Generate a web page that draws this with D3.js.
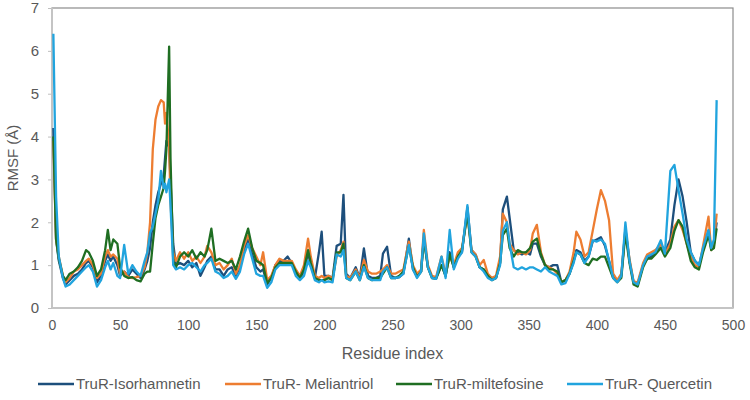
<!DOCTYPE html>
<html>
<head>
<meta charset="utf-8">
<script src="https://cdn.jsdelivr.net/npm/d3@7"></script>
<style>
  body { margin: 0; background: #fff; }
  svg text { font-family: "Liberation Sans", Arial, sans-serif; fill: #595959; }
</style>
</head>
<body>
<div id="chart"></div>
<script>
// residue index sampled along the x axis
var residues = [
  1, 3, 5, 8, 10, 13, 16, 19, 22, 25,
  27, 30, 33, 36, 39, 41, 43, 45, 48, 50,
  53, 56, 59, 62, 65, 68, 70, 72, 74, 76,
  78, 80, 82, 83, 84, 86, 87, 89, 91, 94,
  97, 100, 103, 106, 109, 112, 114, 117, 120, 123,
  126, 129, 132, 135, 138, 141, 144, 147, 150, 153,
  155, 158, 161, 164, 167, 170, 173, 176, 179, 182,
  185, 188, 190, 193, 196, 198, 200, 203, 206, 209,
  212, 214, 216, 219, 223, 226, 229, 232, 235, 238,
  241, 243, 246, 249, 252, 255, 258, 262, 265, 268,
  271, 273, 276, 279, 282, 286, 289, 292, 295, 298,
  301, 305, 308, 311, 314, 317, 320, 323, 326, 329,
  331, 334, 336, 339, 342, 345, 348, 351, 353, 356,
  359, 362, 365, 368, 371, 374, 377, 380, 383, 385,
  388, 391, 394, 397, 400, 403, 406, 409, 412, 415,
  418, 421, 424, 427, 430, 434, 437, 440, 443, 447,
  450, 454, 457, 460, 463, 466, 469, 472, 475, 478,
  482, 484, 486, 488
];

var isorhamnetin = [
  4.2, 1.6, 1.1, 0.7, 0.55, 0.65, 0.75, 0.8, 0.9, 1.05,
  1.1, 0.95, 0.6, 0.75, 1.1, 1.25, 1.1, 1.2, 1.0, 0.75,
  0.85, 0.75, 0.9, 0.8, 0.7, 0.9, 1.1, 1.4, 2.0, 2.4,
  2.7, 2.9, 3.1, 3.5, 3.9, 3.75, 3.0, 1.5, 1.0, 1.05,
  1.0, 1.1, 0.95, 1.05, 0.75, 0.95, 1.1, 1.2, 0.9, 0.9,
  0.75, 0.9, 0.95, 0.75, 0.95, 1.35, 1.6, 1.25, 0.95, 0.85,
  0.9, 0.55, 0.7, 1.0, 1.1, 1.1, 1.2, 1.05, 0.85, 0.7,
  0.85, 1.3, 1.0, 0.7, 1.3, 1.78, 0.75, 0.75, 0.7, 1.45,
  1.5, 2.64, 0.8, 0.7, 0.95, 0.7, 1.39, 0.75, 0.7, 0.7,
  0.75, 1.27, 1.43, 0.75, 0.7, 0.72, 0.8, 1.62, 0.9, 0.75,
  0.85, 1.65, 0.95, 0.72, 0.7, 1.0, 0.75, 1.3, 0.95, 1.2,
  1.3, 2.35, 1.35, 1.25, 0.95, 0.9, 0.75, 0.7, 0.7, 1.05,
  2.3, 2.6, 2.1, 1.35, 1.3, 1.25, 1.3, 1.25, 1.5, 1.5,
  1.2, 1.0, 0.95, 1.0, 1.0, 0.6, 0.65, 0.8, 1.1, 1.35,
  1.3, 1.1, 1.2, 1.55, 1.6, 1.65, 1.45, 1.1, 0.75, 0.62,
  0.75, 1.85, 1.1, 0.6, 0.55, 1.0, 1.15, 1.2, 1.3, 1.5,
  1.3, 1.6, 2.4, 3.0, 2.6, 2.0, 1.3, 1.1, 1.0, 1.35,
  1.8, 1.4, 1.5, 2.0
];

var meliantriol = [
  3.9, 1.6, 1.2, 0.75, 0.6, 0.7, 0.85, 0.9, 1.0, 1.1,
  1.15, 1.0, 0.7, 0.8, 1.2, 1.35, 1.2, 1.25, 1.15, 0.8,
  0.85, 0.72, 0.7, 0.72, 0.75, 0.95, 1.3, 2.0, 3.7, 4.4,
  4.7, 4.85, 4.8, 4.3, 4.55, 3.8, 2.5, 1.3, 1.1, 1.3,
  1.15, 1.3, 1.1, 1.2, 1.05, 1.2, 1.45, 1.3, 1.0, 1.05,
  0.9, 1.0, 1.15, 0.8, 1.0, 1.45, 1.7, 1.4, 1.2, 1.0,
  1.3, 0.65, 0.75, 1.0, 1.15, 1.1, 1.1, 1.1, 0.9, 0.75,
  1.0, 1.62, 1.2, 0.75, 0.7, 0.75, 0.7, 0.75, 0.7, 1.2,
  1.35, 1.55, 0.75, 0.7, 0.9, 0.7, 1.12, 0.85, 0.8, 0.8,
  0.85, 0.9, 1.0, 0.8, 0.8, 0.85, 0.9, 1.55, 1.0, 0.8,
  0.9, 1.82, 1.0, 0.75, 0.72, 1.2, 0.8, 1.2, 1.0, 1.3,
  1.4, 2.2, 1.35, 1.25, 1.0, 1.12, 0.8, 0.7, 0.75, 1.2,
  2.2, 2.0, 1.5, 1.35, 1.25, 1.3, 1.25, 1.35, 1.74, 1.94,
  1.3, 1.0, 0.95, 0.9, 0.8, 0.6, 0.65, 0.85, 1.3, 1.78,
  1.6, 1.2, 1.3, 1.8, 2.3, 2.75, 2.5, 2.05, 0.8, 0.65,
  0.8, 1.8, 1.15, 0.62, 0.6, 1.05, 1.25, 1.3, 1.35, 1.5,
  1.25, 1.5, 1.9, 2.05, 1.82, 1.5, 1.2, 1.0, 0.95, 1.45,
  2.13, 1.35, 1.5, 2.2
];

var miltefosine = [
  4.0, 1.6, 1.15, 0.75, 0.65, 0.8, 0.85, 0.95, 1.1, 1.35,
  1.3, 1.1, 0.75, 0.9, 1.35, 1.82, 1.35, 1.6, 1.5, 0.95,
  0.75, 0.7, 0.72, 0.65, 0.62, 0.8, 0.85, 0.85, 1.5, 2.1,
  2.4, 2.6, 2.8, 3.2, 3.7, 6.1, 3.5, 1.1, 0.95, 1.2,
  1.3, 1.2, 1.35, 1.15, 1.3, 1.2, 1.35, 1.85, 1.1, 1.15,
  1.1, 1.05, 1.1, 0.9, 1.2, 1.55, 1.85, 1.4, 1.1, 1.05,
  1.0, 0.58, 0.7, 0.95, 1.05, 1.05, 1.05, 1.05, 0.85, 0.7,
  0.9, 1.35, 1.05, 0.7, 0.65, 0.65, 0.65, 0.7, 0.65, 1.3,
  1.3, 1.5, 0.7, 0.65, 0.85, 0.65, 1.0, 0.7, 0.65, 0.7,
  0.7, 0.8, 0.95, 0.7, 0.7, 0.75, 0.85, 1.45, 0.95, 0.72,
  0.85, 1.6, 0.95, 0.7, 0.68, 1.0, 0.75, 1.25, 0.95, 1.2,
  1.35, 2.2, 1.3, 1.2, 0.95, 0.9, 0.75, 0.65, 0.7, 1.05,
  1.7, 1.85, 1.4, 1.2, 1.35, 1.3, 1.3, 1.4, 1.55, 1.62,
  1.25, 1.0, 0.9, 0.9, 0.85, 0.6, 0.65, 0.8, 1.1, 1.3,
  1.25, 1.05, 1.0, 1.15, 1.12, 1.2, 1.2, 0.95, 0.7, 0.6,
  0.7, 1.75, 1.05, 0.55, 0.5, 0.95, 1.15, 1.15, 1.25, 1.4,
  1.2, 1.4, 1.8, 2.05, 1.9, 1.5, 1.1, 0.95, 0.9, 1.3,
  1.7, 1.35, 1.4, 1.86
];

var quercetin = [
  6.4, 2.6, 1.2, 0.7, 0.5, 0.55, 0.65, 0.75, 0.85, 0.95,
  1.0, 0.85, 0.5, 0.65, 0.95, 1.1, 0.9, 1.05, 0.75, 0.7,
  1.47, 0.8, 1.0, 0.85, 0.75, 1.1, 1.3, 1.75, 1.9, 2.2,
  2.5, 3.2, 2.8, 2.9, 2.7, 3.0, 2.4, 1.0, 0.9, 0.95,
  0.9, 1.0, 1.05, 0.95, 0.85, 1.0, 1.05, 1.15, 0.85, 0.8,
  0.7, 0.75, 0.85, 0.68, 0.85, 1.25, 1.5, 1.15, 0.8, 0.75,
  0.75, 0.47, 0.6, 0.9, 1.0, 1.0, 1.0, 1.0, 0.75, 0.65,
  0.75, 1.1, 0.95, 0.65, 0.6, 0.65, 0.6, 0.62, 0.6, 1.25,
  1.2, 1.35, 0.7, 0.65, 0.85, 0.65, 0.96, 0.7, 0.65, 0.65,
  0.65, 0.85, 0.95, 0.7, 0.7, 0.72, 0.8, 1.47, 0.9, 0.7,
  0.85, 1.74, 0.95, 0.7, 0.68, 1.2, 0.7, 1.82, 0.9, 1.15,
  1.3, 2.4, 1.3, 1.2, 0.95, 0.85, 0.7, 0.65, 0.7, 1.0,
  1.8, 2.0, 1.5, 0.95, 0.9, 0.95, 0.9, 0.95, 0.95, 0.9,
  0.85, 0.95, 0.85, 0.8, 0.75, 0.55, 0.58, 0.8, 1.05, 1.3,
  1.25, 1.05, 1.2, 1.58, 1.55, 1.6, 1.5, 1.1, 0.7, 0.6,
  0.75, 2.0, 1.1, 0.6, 0.55, 1.0, 1.2, 1.25, 1.3, 1.58,
  1.27, 3.2, 3.34, 2.75, 2.2, 1.6, 1.3, 1.1, 1.0, 1.4,
  1.82, 1.4, 1.6, 4.85
];

var seriesNames = ["TruR-Isorhamnetin", "TruR- Meliantriol", "TruR-miltefosine", "TruR- Quercetin"];
var seriesColors = ["#1d4f7c", "#ed7d31", "#1f6e22", "#21a4de"];
var seriesValues = [isorhamnetin, meliantriol, miltefosine, quercetin];

var xTicks = [0, 50, 100, 150, 200, 250, 300, 350, 400, 450, 500];
var yTicks = [0, 1, 2, 3, 4, 5, 6, 7];

var width = 750, height = 400;
var margin = {top: 8, right: 17, bottom: 92, left: 52};
var plotW = width - margin.left - margin.right,
    plotH = height - margin.top - margin.bottom;

var x = d3.scaleLinear().domain([0, 500]).range([0, plotW]);
var y = d3.scaleLinear().domain([0, 7]).range([plotH, 0]);

var svg = d3.select("#chart").append("svg")
  .attr("width", width)
  .attr("height", height);

var g = svg.append("g")
  .attr("transform", "translate(" + margin.left + "," + margin.top + ")");

// plot frame (top / right darker, axes lighter)
g.append("rect")
  .attr("x", 0).attr("y", 0)
  .attr("width", plotW).attr("height", plotH)
  .attr("fill", "none")
  .attr("stroke", "#8c8c8c")
  .attr("stroke-width", 1.2);

var yAxis = g.append("g")
  .call(d3.axisLeft(y).tickValues(yTicks).tickFormat(d3.format("d")).tickSize(4).tickPadding(9));
yAxis.select(".domain").remove();
yAxis.selectAll("line").attr("stroke", "#bfbfbf");
yAxis.selectAll("text").style("font-size", "15px").attr("fill", "#595959");

var xAxis = g.append("g")
  .attr("transform", "translate(0," + plotH + ")")
  .call(d3.axisBottom(x).tickValues(xTicks).tickFormat(d3.format("d")).tickSize(0).tickPadding(12));
xAxis.select(".domain").remove();
xAxis.selectAll("text").style("font-size", "14px").attr("fill", "#595959");

g.append("line")
  .attr("x1", 0).attr("x2", 0).attr("y1", 0).attr("y2", plotH)
  .attr("stroke", "#c4c4c4").attr("stroke-width", 2);
g.append("line")
  .attr("x1", 0).attr("x2", plotW).attr("y1", plotH).attr("y2", plotH)
  .attr("stroke", "#c4c4c4").attr("stroke-width", 2);

var line = d3.line()
  .x(function(d, i) { return x(residues[i]); })
  .y(function(d) { return y(d); });

seriesValues.forEach(function(vals, k) {
  g.append("path")
    .datum(vals)
    .attr("fill", "none")
    .attr("stroke", seriesColors[k])
    .attr("stroke-width", 2.3)
    .attr("stroke-linejoin", "round")
    .attr("d", line);
});

// axis titles
svg.append("text")
  .attr("x", margin.left + plotW / 2)
  .attr("y", 359)
  .attr("text-anchor", "middle")
  .style("font-size", "16px")
  .text("Residue index");

svg.append("text")
  .attr("transform", "translate(18," + (margin.top + plotH / 2) + ") rotate(-90)")
  .attr("text-anchor", "middle")
  .style("font-size", "15px")
  .text("RMSF (Å)");

// legend
var legendX = [38, 225, 396, 567];
var legend = svg.append("g").attr("transform", "translate(0,384)");
seriesNames.forEach(function(name, k) {
  legend.append("line")
    .attr("x1", legendX[k]).attr("x2", legendX[k] + 36)
    .attr("y1", 0).attr("y2", 0)
    .attr("stroke", seriesColors[k])
    .attr("stroke-width", 2.5);
  legend.append("text")
    .attr("x", legendX[k] + 38)
    .attr("y", 5)
    .style("font-size", "15px")
    .text(name);
});
</script>
</body>
</html>
